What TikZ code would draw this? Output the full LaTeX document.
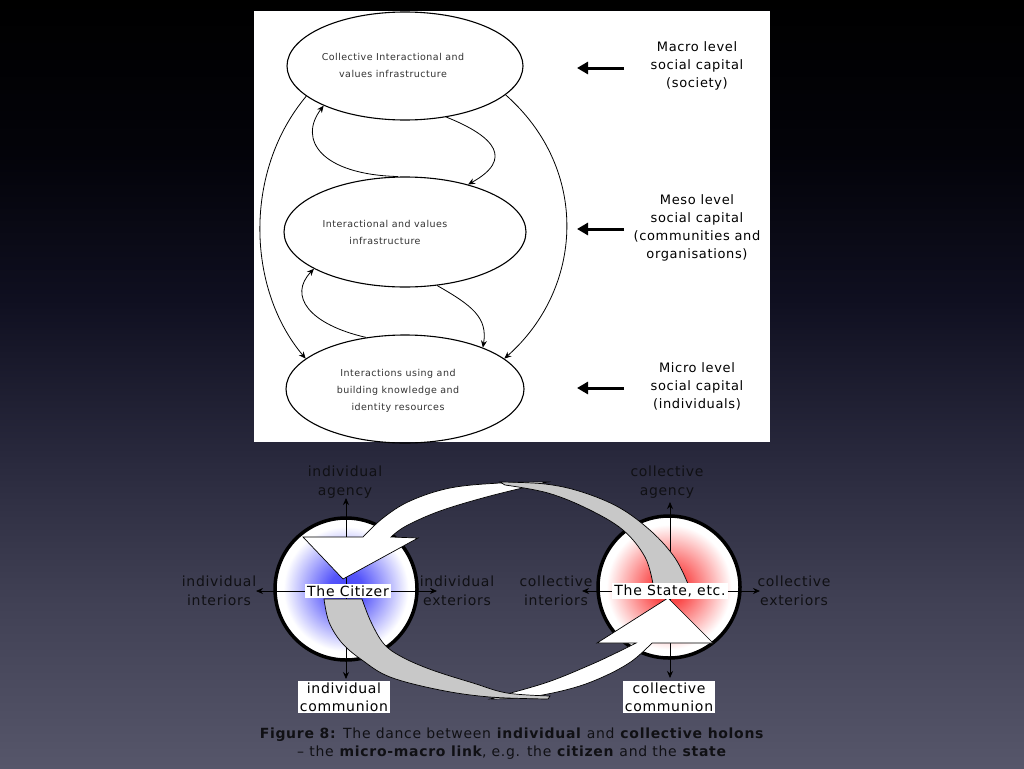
\documentclass[tikz,border=0pt]{standalone}
\usepackage{fontspec}
\setmainfont{DejaVu Sans}
\newfontfamily\lblfont[LetterSpace=5]{DejaVu Sans}
\newfontfamily\ellfont[LetterSpace=5]{DejaVu Sans}
\usetikzlibrary{shapes.geometric,arrows.meta}
\definecolor{bgA}{RGB}{86,86,106}
\definecolor{bgB}{RGB}{64,64,84}
\definecolor{bgC}{RGB}{40,40,60}
\definecolor{bgD}{RGB}{15,15,32}
\definecolor{bgE}{RGB}{3,3,9}
\definecolor{cblue}{RGB}{70,70,250}
\definecolor{cred}{RGB}{250,60,60}
\definecolor{ribgray}{RGB}{200,200,200}
\definecolor{txtdark}{RGB}{16,16,20}
\pgfdeclareverticalshading{bgshade}{100bp}{color(0bp)=(bgA); color(25bp)=(bgA); color(36bp)=(bgB); color(45.5bp)=(bgC); color(55.5bp)=(bgD); color(65bp)=(bgE); color(75bp)=(black); color(100bp)=(black)}
\pgfdeclareradialshading{blueball}{\pgfpoint{0bp}{0bp}}{color(0bp)=(cblue); color(6bp)=(cblue!92!white); color(22bp)=(white); color(50bp)=(white)}
\pgfdeclareradialshading{redball}{\pgfpoint{0bp}{0bp}}{color(0bp)=(cred); color(6bp)=(cred!92!white); color(22bp)=(white); color(50bp)=(white)}
\tikzset{
  ell/.style={ellipse, draw=black, line width=1.1pt, inner sep=0pt},
  elltext/.style={font=\ellfont\fontsize{9.5}{17}\selectfont, text=black!80, align=center, inner sep=0pt},
  lvltext/.style={font=\lblfont\fontsize{13}{18}\selectfont, text=black, align=center, inner sep=0pt},
  conn/.style={line width=0.8pt, -{Stealth[length=7pt,width=6pt]}},
  thickarr/.style={line width=3pt, -{Triangle[length=11pt,width=12pt]}},
  holon/.style={circle, draw=black, line width=3.5pt, minimum size=142pt, inner sep=0pt},
  dlabel/.style={font=\lblfont\fontsize{14}{19}\selectfont, text=txtdark, align=center, inner sep=0pt},
  wbox/.style={font=\lblfont\fontsize{14}{18}\selectfont, text=black, fill=white, align=center, inner xsep=2pt, inner ysep=1.5pt},
  axis/.style={line width=0.8pt, -{Stealth[length=7pt,width=6pt]}},
  ribwhite/.style={fill=white, draw=black, line width=0.7pt},
  ribgrey/.style={fill=ribgray, draw=black, line width=0.7pt},
}
\begin{document}
\begin{tikzpicture}[x=1pt, y=-1pt]
\useasboundingbox (0,0) rectangle (1024,768);
\fill[shading=bgshade] (0,0) rectangle (1024,768);
% top panel
\fill[white] (254,11) rectangle (770,442);
\node[ell, minimum width=236pt, minimum height=108pt] (T) at (405,66) {};
\node[ell, minimum width=242pt, minimum height=110pt] (M) at (405,232) {};
\node[ell, minimum width=238pt, minimum height=108pt] (B) at (405,389) {};
\node[elltext] (Tt) at (393,65) {Collective Interactional and\\values infrastructure};
\node[elltext] (Mt) at (385,232) {Interactional and values\\infrastructure};
\node[elltext] (Bt) at (398,391) {Interactions using and\\building knowledge and\\identity resources};
% connectors
\draw[conn] (T.197) .. controls +(-63,75) and +(-59,-70) .. (B.163);
\draw[conn] (T.344) .. controls +(85,75) and +(79,-70) .. (B.17);
\draw[conn] (T.309) .. controls +(50,20) and +(45,-25) .. (M.37);
\draw[conn] (M.97) .. controls +(-77,-2) and +(-26,34) .. (T.206);
\draw[conn] (M.301) .. controls +(35,20) and +(5,-30) .. (B.28);
\draw[conn] (B.127) .. controls +(-57,-13) and +(-26,27) .. (M.202);
% level labels
\node[lvltext] (macro) at (697,66) {Macro level\\social capital\\(society)};
\node[lvltext] (meso) at (697,228) {Meso level\\social capital\\(communities and\\organisations)};
\node[lvltext] (micro) at (697,386) {Micro level\\social capital\\(individuals)};
\coordinate (a1s) at (624,68); \coordinate (a1e) at (577,68);
\coordinate (a2s) at (624,229); \coordinate (a2e) at (577,229);
\coordinate (a3s) at (624,388); \coordinate (a3e) at (577,388);
\draw[thickarr] (a1s) -- (a1e);
\draw[thickarr] (a2s) -- (a2e);
\draw[thickarr] (a3s) -- (a3e);
% holons
\node[holon, shading=blueball] (cit) at (346,589) {};
\node[holon, shading=redball] (sta) at (669,587) {};
% labels
\node[dlabel] (agL) at (345,482.5) {individual\\agency};
\node[dlabel] (inL) at (219,590.5) {individual\\interiors};
\node[dlabel] (exL) at (457,590.5) {individual\\exteriors};
\node[dlabel] (agR) at (667,482.5) {collective\\agency};
\node[dlabel] (inR) at (556,590.5) {collective\\interiors};
\node[dlabel] (exR) at (794,590.5) {collective\\exteriors};
% axes
\coordinate (cc) at (346,591);
\coordinate (ciL) at (256,591); \coordinate (ciR) at (437,591);
\coordinate (ciU) at (346,498); \coordinate (ciD) at (346,679);
\coordinate (sc) at (670,591);
\coordinate (stL) at (582,591); \coordinate (stR) at (760,591);
\coordinate (stU) at (670,502); \coordinate (stD) at (670,678);
\draw[axis] (cc) -- (ciL);
\draw[axis] (cc) -- (ciR);
\draw[axis] (cc) -- (ciU);
\draw[axis] (cc) -- (ciD);
\draw[axis] (sc) -- (stL);
\draw[axis] (sc) -- (stR);
\draw[axis] (sc) -- (stU);
\draw[axis] (sc) -- (stD);
% upper ribbon: white head into the citizen
\path[ribwhite] plot[smooth, tension=0.6] coordinates {(548,482) (500,483) (450,488) (410,501) (383,518) (363,537)}
  -- (303,537) -- (343,579) -- (418,538) -- (391,537)
  -- plot[smooth, tension=0.6] coordinates {(391,537) (406,526) (440,511) (490,496) (548,482)} -- cycle;
% upper ribbon: grey tail from the state
\path[ribgrey] plot[smooth, tension=0.6] coordinates {(500,482) (545,484) (582,492) (620,508) (652,532) (675,558) (688,584)}
  -- (653,584)
  -- plot[smooth, tension=0.6] coordinates {(653,584) (645,557) (623,530) (588,509) (548,493) (505,485)} -- cycle;
% lower ribbon: white head into the state
\path[ribwhite] plot[smooth, tension=0.6] coordinates {(490,699) (530,697) (573,688) (605,676) (632,661) (652,643)}
  -- (713,643) -- (668,598) -- (597,643) -- (636,643)
  -- plot[smooth, tension=0.6] coordinates {(636,643) (618,652) (590,665) (548,682) (500,696) (490,699)} -- cycle;
% lower ribbon: grey tail from the citizen
\path[ribgrey] plot[smooth, tension=0.6] coordinates {(324,599) (329,622) (342,643) (362,660) (390,677) (440,690) (490,697) (548,699)}
  -- (550,696)
  -- plot[smooth, tension=0.6] coordinates {(550,696) (507,693) (473,683) (432,670) (402,657) (384,644) (371,622) (362,599)} -- cycle;
% centre labels and communion boxes
\node[wbox] (citn) at (348,591) {The Citizer};
\node[wbox] (stan) at (670,591) {The State, etc.};
\node[wbox] (coL) at (344,697) {individual\\communion};
\node[wbox] (coR) at (669,697) {collective\\communion};
% caption
\node[font=\lblfont\fontsize{14}{18}\selectfont, text=txtdark, align=center, inner sep=0pt] (cap) at (512,744)
  {\textbf{Figure 8:} The dance between \textbf{individual} and \textbf{collective holons}\\
   – the \textbf{micro-macro link}, e.g. the \textbf{citizen} and the \textbf{state}};
\end{tikzpicture}
\end{document}
